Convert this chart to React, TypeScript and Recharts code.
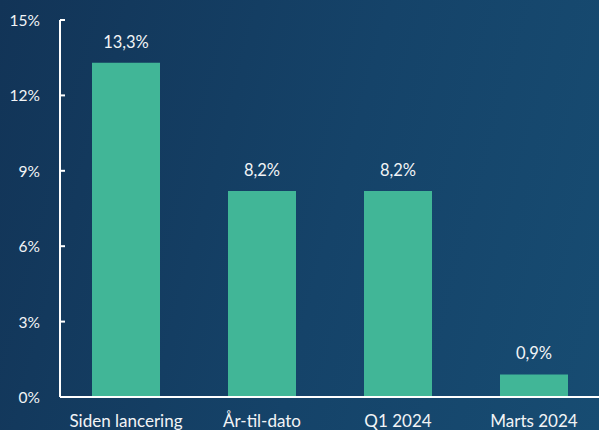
import React from "react";
import { BarChart, Bar, XAxis, YAxis, LabelList } from "recharts";

const categories = ["Siden lancering", "År-til-dato", "Q1 2024", "Marts 2024"];
const returns = [13.3, 8.2, 8.2, 0.9];
const yTicks = [0, 3, 6, 9, 12, 15];

const data = categories.map((name, i) => ({ name, value: returns[i] }));

const FONT = "Lato, 'Noto Sans', sans-serif";
const TEXT = "#f2f4f6";

const fmt = (v: number) => v.toFixed(1).replace(".", ",") + "%";

const YTick = (props: any) => {
  const { x, y, payload } = props;
  return (
    <g>
      <line x1={x} x2={x + 5} y1={y} y2={y} stroke="#ffffff" strokeWidth={2} />
      <text
        x={x - 20}
        y={y}
        textAnchor="end"
        dominantBaseline="central"
        fill={TEXT}
        fontSize={15.5}
        fontFamily={FONT}
      >
        {payload.value + "%"}
      </text>
    </g>
  );
};

export default function App() {
  return (
    <div
      style={{
        position: "absolute",
        left: 0,
        top: 0,
        width: 599,
        height: 430,
        background: "linear-gradient(105deg, #123457 0%, #154369 55%, #174c72 100%)",
        overflow: "hidden",
      }}
    >
      <BarChart
        width={599}
        height={430}
        data={data}
        margin={{ top: 20, right: -3, bottom: 0, left: 0 }}
      >
        <XAxis
          dataKey="name"
          axisLine={{ stroke: "#ffffff", strokeWidth: 2 }}
          tickLine={false}
          tickSize={0}
          tickMargin={18}
          height={33}
          padding={{ left: -2, right: 0 }}
          tick={{ fill: TEXT, fontSize: 17, fontFamily: FONT }}
          interval={0}
        />
        <YAxis
          width={60}
          domain={[0, 15]}
          ticks={yTicks}
          interval={0}
          axisLine={{ stroke: "#ffffff", strokeWidth: 2 }}
          tickLine={false}
          tickSize={0}
          tickMargin={0}
          tick={<YTick />}
        />
        <Bar dataKey="value" fill="#41b697" barSize={68} isAnimationActive={false}>
          <LabelList
            dataKey="value"
            position="top"
            offset={15}
            formatter={(v: any) => fmt(Number(v))}
            fill={TEXT}
            fontSize={16.5}
            fontFamily={FONT}
          />
        </Bar>
      </BarChart>
    </div>
  );
}
